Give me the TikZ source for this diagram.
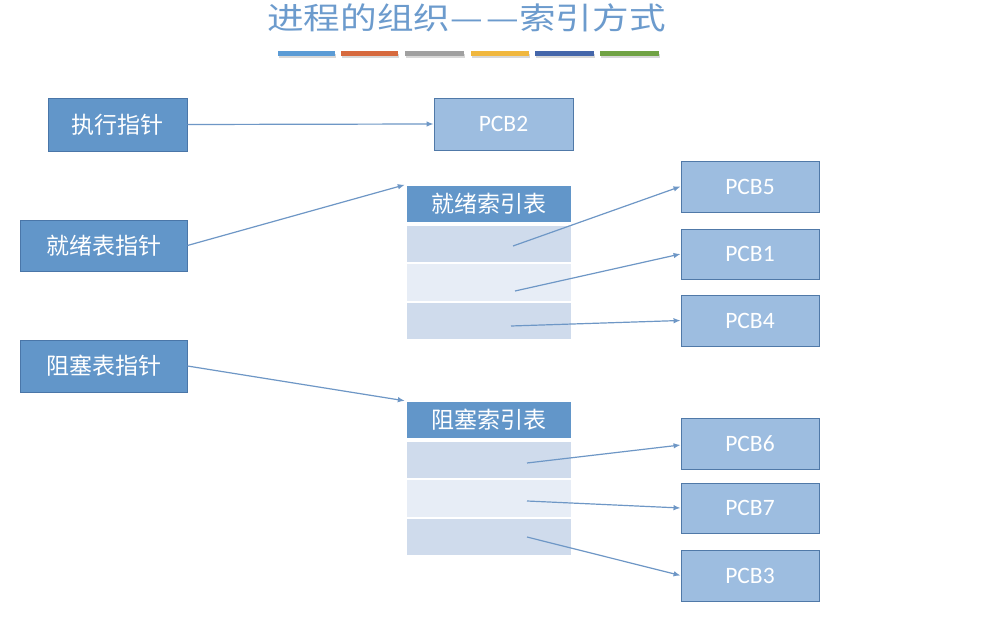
\documentclass[tikz,border=0pt]{standalone}
\usepackage{fontspec}
\usepackage{graphicx}
\setmainfont{Carlito}
\newfontfamily\cjk{Noto Sans CJK SC}
\usetikzlibrary{arrows.meta,calc}
\definecolor{boxdark}{HTML}{6296C9}
\definecolor{boxdarkline}{HTML}{4A76A8}
\definecolor{pcbfill}{HTML}{9DBDE0}
\definecolor{pcbline}{HTML}{5079A8}
\definecolor{rowa}{HTML}{CFDBEC}
\definecolor{rowb}{HTML}{E7EDF6}
\definecolor{arrowc}{HTML}{6E97C6}
\definecolor{titlec}{HTML}{6C9BCD}
\definecolor{barA}{HTML}{5B9BD5}
\definecolor{barB}{HTML}{D6693D}
\definecolor{barC}{HTML}{A0A0A0}
\definecolor{barD}{HTML}{F0B73E}
\definecolor{barE}{HTML}{4466AA}
\definecolor{barF}{HTML}{70A244}
\definecolor{barshadow}{HTML}{D8D8D8}
\newcommand{\sx}[1]{\scalebox{1.2}[1]{#1}}
\begin{document}
\begin{tikzpicture}[x=1pt,y=-1pt,
  ptrbox/.style={draw=boxdarkline,line width=0.9pt,fill=boxdark,text=white,inner sep=0pt,
    font=\cjk\fontsize{23}{26}\selectfont},
  pcbbox/.style={draw=pcbline,line width=0.9pt,fill=pcbfill,text=white,inner sep=0pt,
    minimum width=138pt,minimum height=51pt,font=\fontsize{23.5}{26}\selectfont},
  hdr/.style={fill=boxdark,text=white,inner sep=0pt,minimum width=164pt,minimum height=36pt,
    font=\cjk\fontsize{23}{26}\selectfont},
  rowA/.style={fill=rowa,inner sep=0pt,minimum width=164pt,minimum height=36pt},
  rowB/.style={fill=rowb,inner sep=0pt,minimum width=164pt,minimum height=36pt},
  link/.style={draw=arrowc,line width=1.2pt,-{Latex[length=7pt,width=5.5pt]}},
]
\useasboundingbox (0,0) rectangle (1005,617);
\fill[white] (0,0) rectangle (1005,617);
% title
\node[text=titlec,font=\cjk\fontsize{30.5}{34}\selectfont,inner sep=0pt] (title) at (466.5,17.5) {\sx{进程的组织—\hspace{3pt}—索引方式}};
\foreach \a/\b/\c in {278/335/barA,341/398/barB,405/464/barC,471/529/barD,535/594/barE,600/659/barF}{
  \fill[barshadow] (\a+1,54) rectangle (\b+1,58);
  \fill[\c] (\a,51.5) rectangle (\b,56);
}
% pointer boxes
\node[ptrbox,minimum width=139pt,minimum height=53pt] (exec) at (117.5,124.5) {执行指针};
\node[ptrbox,minimum width=167pt,minimum height=51pt] (rptr) at (103.5,245.5) {就绪表指针};
\node[ptrbox,minimum width=167pt,minimum height=52pt] (bptr) at (103.5,366) {阻塞表指针};
\node[pcbbox,minimum width=139pt,minimum height=52pt] (pcb2) at (503.5,124) {PCB2};
% ready index table
\node[hdr] (rh) at (489,204) {就绪索引表};
\node[rowA] (r1) at (489,244) {};
\node[rowB,minimum height=37pt] (r2) at (489,282.5) {};
\node[rowA] (r3) at (489,321) {};
% blocked index table
\node[hdr] (bh) at (489,420) {阻塞索引表};
\node[rowA] (b1) at (489,460) {};
\node[rowB,minimum height=37pt] (b2) at (489,498.5) {};
\node[rowA] (b3) at (489,537.5) {};
% PCBs
\node[pcbbox] (pcb5) at (750,186.5) {PCB5};
\node[pcbbox,minimum height=50pt] (pcb1) at (750,254) {PCB1};
\node[pcbbox] (pcb4) at (750,320.5) {PCB4};
\node[pcbbox] (pcb6) at (750,443.5) {PCB6};
\node[pcbbox,minimum height=50pt] (pcb7) at (750,508) {PCB7};
\node[pcbbox] (pcb3) at (750,575.5) {PCB3};
% start points inside rows
\coordinate (s1) at (513,246);
\coordinate (s2) at (515,291);
\coordinate (s3) at (511,326);
\coordinate (t1) at (527,463);
\coordinate (t2) at (527,501);
\coordinate (t3) at (527,537);
\coordinate (rin) at ($(rh.north west)+(-2,-1)$);
\coordinate (bin) at ($(bh.north west)+(-2,-1)$);
% connectors
\draw[link] (exec.east) -- (pcb2.west);
\draw[link] (rptr.east) -- (rin);
\draw[link] (bptr.east) -- (bin);
\draw[link] (s1) -- (pcb5.west);
\draw[link] (s2) -- (pcb1.west);
\draw[link] (s3) -- (pcb4.west);
\draw[link] (t1) -- ($(pcb6.west)+(0,1.5)$);
\draw[link] (t2) -- (pcb7.west);
\draw[link] (t3) -- (pcb3.west);
\end{tikzpicture}
\end{document}
